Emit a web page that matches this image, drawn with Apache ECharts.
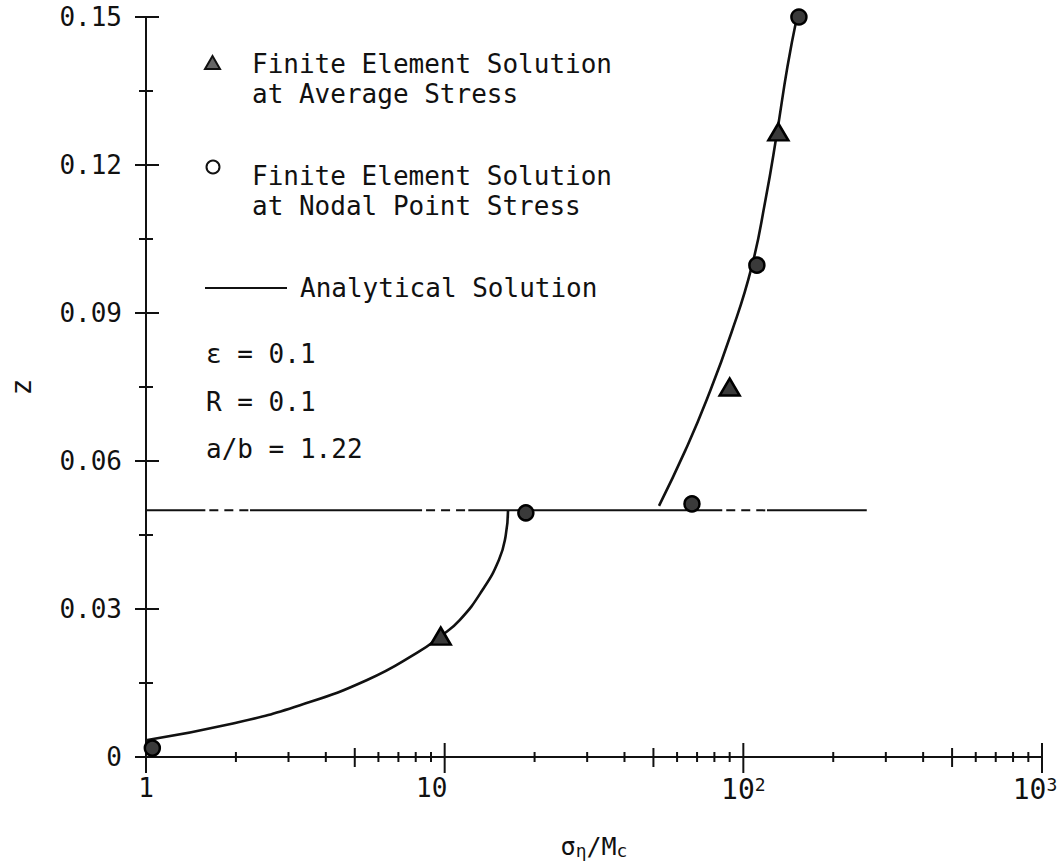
<!DOCTYPE html>
<html>
<head>
<meta charset="utf-8">
<script src="https://cdn.jsdelivr.net/npm/echarts@6/dist/echarts.min.js"></script>
<style>
  html, body { margin: 0; padding: 0; background: #fff; }
  #chart { width: 1061px; height: 868px; }
</style>
</head>
<body>
<div id="chart"></div>
<script>
// Finite element results: [sigma_n / M_c, z]
const avgStressPoints = [[9.7, 0.0245], [90, 0.075], [131, 0.1267]];
const nodalStressPoints = [[1.05, 0.0018], [18.7, 0.0495], [67.3, 0.0513], [111, 0.0997], [153.5, 0.150]];

// Analytical solution, lower and upper branches
const lowerBranchX = [1, 1.955, 3.28, 5.5, 8.07, 9.7, 11.25, 13.4, 15.2, 16.0, 16.3];
const lowerBranchZ = [0.0034, 0.0068, 0.0105, 0.0156, 0.0211, 0.0245, 0.0278, 0.0339, 0.0400, 0.0448, 0.0500];
const upperBranchX = [52.2, 64.0, 75.4, 91.2, 106.6, 118.6, 129.6, 140.5, 151.2];
const upperBranchZ = [0.0509, 0.0622, 0.0724, 0.0860, 0.0993, 0.1129, 0.1265, 0.1399, 0.1500];

// Reference level z = 0.05, drawn as solid runs joined by broken runs
const levelZ = 0.05;
const levelSolidRuns = [[1, 1.58], [2.23, 8.4], [12, 85], [120, 259]];
const levelBrokenRuns = [[1.58, 2.23], [8.4, 12], [85, 120]];

// Axis ticks and labels
const xMajorTicks = [1, 10, 100, 1000];
const xTickLabels = ['1', '10', '10^2', '10^3'];
const xMidTicks = [5, 50, 500];
const xMinorTicks = [2, 3, 4, 6, 7, 8, 9, 20, 30, 40, 60, 70, 80, 90, 200, 300, 400, 600, 700, 800, 900];
const yMajorTicks = [0, 0.03, 0.06, 0.09, 0.12, 0.15];
const yTickLabels = ['0', '0.03', '0.06', '0.09', '0.12', '0.15'];
const yMinorTicks = [0.015, 0.045, 0.075, 0.105, 0.135];

const INK = '#111';
const MONO = '"DejaVu Sans Mono", "Liberation Mono", monospace';

const chart = echarts.init(document.getElementById('chart'), null, { renderer: 'svg' });

// tick marks crossing the axis lines
const xTickData = []
  .concat(xMajorTicks.map(v => [v, 0, 2]))
  .concat(xMidTicks.map(v => [v, 0, 1]))
  .concat(xMinorTicks.map(v => [v, 0, 0]));
const yTickData = []
  .concat(yMajorTicks.map(v => [1, v, 2]))
  .concat(yMinorTicks.map(v => [1, v, 0]));

const xTickReach = { 2: [14, 16], 1: [9, 10], 0: [5, 5] };   // [above, below]
const yTickReach = { 2: [11, 13], 0: [7, 7] };               // [left, right]

function zip(xs, ys) { return xs.map((x, i) => [x, ys[i]]); }

const series = [];

levelSolidRuns.forEach(r => series.push({
  type: 'line', data: [[r[0], levelZ], [r[1], levelZ]], symbol: 'none', silent: true,
  lineStyle: { color: INK, width: 2 }, z: 2
}));
levelBrokenRuns.forEach(r => series.push({
  type: 'line', data: [[r[0], levelZ], [r[1], levelZ]], symbol: 'none', silent: true,
  lineStyle: { color: INK, width: 2, type: [9, 6], dashOffset: -4 }, z: 2
}));

series.push({
  type: 'line', name: 'Analytical Solution', data: zip(lowerBranchX, lowerBranchZ),
  symbol: 'none', smooth: 0.5, lineStyle: { color: INK, width: 2.6 }, z: 3
});
series.push({
  type: 'line', name: 'Analytical Solution', data: zip(upperBranchX, upperBranchZ),
  symbol: 'none', smooth: 0.5, lineStyle: { color: INK, width: 2.6 }, z: 3
});

series.push({
  type: 'scatter', name: 'Finite Element Solution at Average Stress',
  data: avgStressPoints, symbol: 'triangle', symbolSize: [20, 17], clip: false,
  itemStyle: { color: '#3a3a3a', borderColor: '#000', borderWidth: 2.5, opacity: 1 }, z: 5
});
series.push({
  type: 'scatter', name: 'Finite Element Solution at Nodal Point Stress',
  data: nodalStressPoints, symbol: 'circle', symbolSize: 15, clip: false,
  itemStyle: { color: '#3a3a3a', borderColor: '#000', borderWidth: 2.5, opacity: 1 }, z: 5
});

series.push({
  type: 'custom', data: xTickData, clip: false, silent: true, z: 4,
  encode: { x: 0, y: 1 },
  renderItem: function (params, api) {
    const p = api.coord([api.value(0), api.value(1)]);
    const reach = xTickReach[api.value(2)];
    return { type: 'line', shape: { x1: p[0], y1: p[1] - reach[0], x2: p[0], y2: p[1] + reach[1] },
             style: { stroke: INK, lineWidth: 2 } };
  }
});
series.push({
  type: 'custom', data: yTickData, clip: false, silent: true, z: 4,
  encode: { x: 0, y: 1 },
  renderItem: function (params, api) {
    const p = api.coord([api.value(0), api.value(1)]);
    const reach = yTickReach[api.value(2)];
    return { type: 'line', shape: { x1: p[0] - reach[0], y1: p[1], x2: p[0] + reach[1], y2: p[1] },
             style: { stroke: INK, lineWidth: 2 } };
  }
});

function xLabel(v) {
  const i = Math.round(Math.log10(v));
  const s = xTickLabels[i];
  if (s === undefined) return '';
  if (s.indexOf('^') >= 0) {
    const parts = s.split('^');
    const supStyle = i === xTickLabels.length - 1 ? 'supEnd' : 'sup';
    return '{big|' + parts[0] + '}{' + supStyle + '|' + parts[1] + '}';
  }
  return i === 1 ? '{ten|' + s + '}' : '{plain|' + s + '}';
}

const legendFont = '26px ' + MONO;
function legendText(text, x, y) {
  return { type: 'text', silent: true, style: { text: text, x: x, y: y, font: legendFont, fill: INK, align: 'left', verticalAlign: 'middle' } };
}

const option = {
  animation: false,
  backgroundColor: '#fff',
  grid: { left: 146, right: 19, top: 17, bottom: 111, containLabel: false, outerBoundsMode: 'none' },
  xAxis: {
    type: 'log', logBase: 10, min: 1, max: 1000,
    axisLine: { show: true, lineStyle: { color: INK, width: 2 } },
    axisTick: { show: false }, minorTick: { show: false }, splitLine: { show: false },
    axisLabel: {
      margin: 18, color: INK, fontFamily: MONO, formatter: xLabel,
      rich: {
        plain: { fontSize: 26, fontFamily: MONO, color: INK },
        ten: { fontSize: 26, fontFamily: MONO, color: INK, padding: [0, 26, 0, 0] },
        big: { fontSize: 28, fontFamily: MONO, color: INK },
        sup: { fontSize: 18, fontFamily: MONO, color: INK, verticalAlign: 'top' },
        supEnd: { fontSize: 18, fontFamily: MONO, color: INK, verticalAlign: 'top', padding: [0, 14, 0, 0] }
      }
    },
    name: '{m|σ}{sub|η}{m|/M}{sub|c}',
    nameLocation: 'middle', nameGap: 76,
    nameTextStyle: {
      rich: {
        m: { fontSize: 25, fontFamily: MONO, color: INK },
        sub: { fontSize: 18, fontFamily: MONO, color: INK, verticalAlign: 'bottom', padding: [8, 0, 0, 0] }
      }
    }
  },
  yAxis: {
    type: 'value', min: 0, max: 0.15, interval: 0.03,
    axisLine: { show: true, lineStyle: { color: INK, width: 2 } },
    axisTick: { show: false }, splitLine: { show: false },
    axisLabel: {
      margin: 24, color: INK, fontSize: 26, fontFamily: MONO,
      formatter: v => yTickLabels[Math.round(v / 0.03)]
    },
    name: 'z', nameLocation: 'middle', nameRotate: 90, nameGap: 111,
    nameTextStyle: { fontSize: 28, fontFamily: MONO, color: INK }
  },
  graphic: [
    { type: 'polygon', silent: true, shape: { points: [[205, 69], [220, 69], [212.5, 56]] },
      style: { fill: '#666', stroke: INK, lineWidth: 2 } },
    legendText('Finite Element Solution', 252, 64),
    legendText('at Average Stress', 252, 94),
    { type: 'circle', silent: true, shape: { cx: 213, cy: 167, r: 6.5 },
      style: { fill: 'none', stroke: INK, lineWidth: 2 } },
    legendText('Finite Element Solution', 252, 176),
    legendText('at Nodal Point Stress', 252, 206),
    { type: 'line', silent: true, shape: { x1: 205, y1: 288, x2: 287, y2: 288 },
      style: { stroke: INK, lineWidth: 2 } },
    legendText('Analytical Solution', 300, 288),
    legendText('ε = 0.1', 206, 354),
    legendText('R = 0.1', 206, 402),
    legendText('a/b = 1.22', 206, 449)
  ],
  series: series
};

chart.setOption(option);
</script>
</body>
</html>
